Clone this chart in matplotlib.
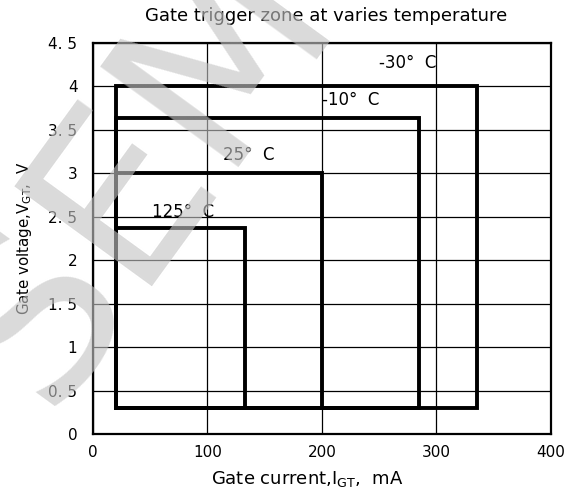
import matplotlib
matplotlib.use("Agg")
import matplotlib.pyplot as plt

plt.rcParams['font.family'] = ['DejaVu Sans']
plt.rcParams['mathtext.fontset'] = 'dejavusans'

# Data
temps = ["-30°  C", "-10°  C", "25°  C", "125°  C"]
i_min = [20, 20, 20, 20]          # mA
i_max = [335, 285, 200, 133]      # mA
v_min = [0.3, 0.3, 0.3, 0.3]      # V
v_max = [4.0, 3.63, 3.0, 2.37]    # V
label_x = [300, 200, 114, 52]
label_y = [4.27, 3.84, 3.21, 2.55]
label_ha = ["right", "left", "left", "left"]

xticks = [0, 100, 200, 300, 400]
yticks = [0, 0.5, 1, 1.5, 2, 2.5, 3, 3.5, 4, 4.5]
yticklabels = ["0", "0. 5", "1", "1. 5", "2", "2. 5", "3", "3. 5", "4", "4. 5"]

W, H = 576, 494
fig = plt.figure(figsize=(W / 100, H / 100), dpi=100)
ax_l, ax_r, ax_t, ax_b = 92.7, 551, 42.7, 434
ax = fig.add_axes([ax_l / W, 1 - ax_b / H, (ax_r - ax_l) / W, (ax_b - ax_t) / H])

ax.set_xlim(0, 400)
ax.set_ylim(0, 4.5)
ax.set_xticks(xticks)
ax.set_xticklabels([str(t) for t in xticks])
ax.set_yticks(yticks)
ax.set_yticklabels(yticklabels)
ax.tick_params(length=0, labelsize=11)
ax.tick_params(axis='y', pad=11)
ax.tick_params(axis='x', pad=8)
ax.grid(True, color='black', linewidth=0.9)
ax.set_axisbelow(True)
for s in ax.spines.values():
    s.set_linewidth(1.6)

for x0, x1, y0, y1 in zip(i_min, i_max, v_min, v_max):
    ax.plot([x0, x0, x1, x1, x0], [y0, y1, y1, y0, y0], color='black',
            linewidth=2.8, solid_joinstyle='miter', zorder=3)

for t, x, y, ha in zip(temps, label_x, label_y, label_ha):
    ax.text(x, y, t, ha=ha, va='center', fontsize=12, zorder=4)

ax.set_xlabel("Gate current,I$_{\\mathregular{GT}}$,  mA", fontsize=13, va='center')
ax.xaxis.set_label_coords((307 - ax_l) / (ax_r - ax_l), (ax_b - 479) / (ax_b - ax_t))
ax.set_ylabel("Gate voltage,V$_{\\mathregular{GT}}$,  V", fontsize=10.8, va='center')
ax.yaxis.set_label_coords((25 - ax_l) / (ax_r - ax_l), 0.5)
fig.text(326 / W, 1 - 16 / H, "Gate trigger zone at varies temperature",
         fontsize=13, ha='center', va='center')

# watermark
fig.text(140 / W, 1 - 172 / H, "SEM", rotation=54, ha='center', va='center',
         fontsize=168, color='#c4c4c4', alpha=0.62, zorder=10,
         rotation_mode='anchor')

fig.savefig("out.png", dpi=100)
